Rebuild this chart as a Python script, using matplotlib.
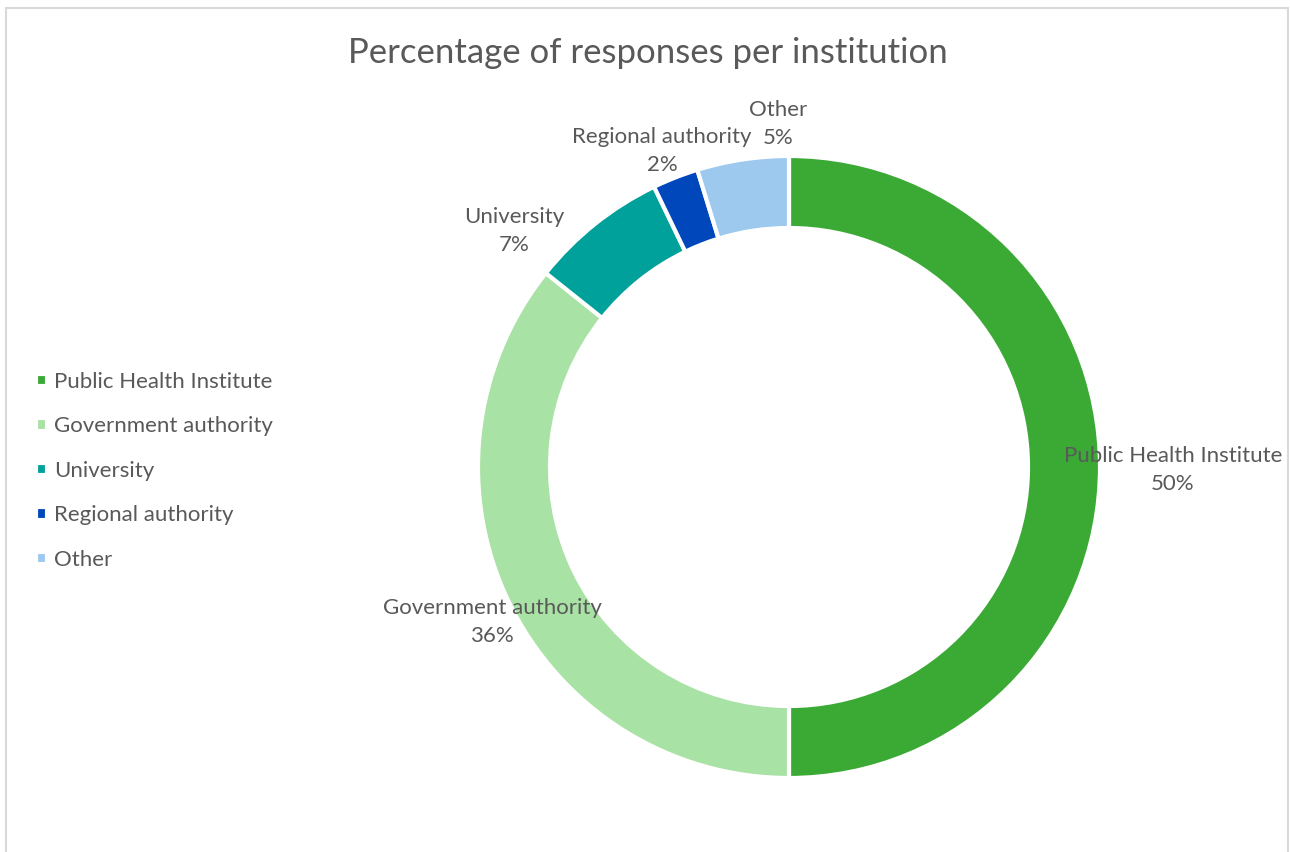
import matplotlib
matplotlib.use("Agg")
import matplotlib.pyplot as plt
from matplotlib.patches import Rectangle

plt.rcParams['font.family'] = ['Lato', 'DejaVu Sans']

# data: counts per institution (shares)
institutions = ['Public Health Institute', 'Government authority', 'University',
                'Regional authority', 'Other']
responses = [21, 15, 3, 1, 2]
colors = ['#3AAA35', '#A9E2A5', '#00A19A', '#0047BB', '#9DC9EE']

# label layout (pixel centres of the two-line labels, y from top)
label_pos = [(1173, 470), (492, 622), (514, 231), (662, 151), (778, 124)]

TEXT = '#595959'
W, H = 1290, 852

fig = plt.figure(figsize=(W / 100, H / 100), dpi=100)
ax = fig.add_axes([0, 0, 1, 1])

# outer chart frame
fig.patches.append(Rectangle((6 / W, -0.01), (1282 / W), (H - 8) / H + 0.01,
                             transform=fig.transFigure, fill=False,
                             edgecolor='#D9D9D9', linewidth=1.5))

wedges, _ = ax.pie(responses, colors=colors, startangle=90, counterclock=False,
                   center=(789, H - 467), radius=311, frame=True,
                   wedgeprops=dict(width=72, edgecolor='white', linewidth=3))
ax.set_xlim(0, W)
ax.set_ylim(0, H)
ax.axis('off')

total = sum(responses)
for name, n, (x, y) in zip(institutions, responses, label_pos):
    pct = round(100 * n / total)
    ax.text(x, H - y, f"{name}\n{pct}%", ha='center', va='center', color=TEXT,
            fontsize=16, linespacing=1.45)

ax.text(648, H - 53, 'Percentage of responses per institution', ha='center',
        va='center', color=TEXT, fontsize=25)

fig.legend(wedges, institutions, loc='upper left', bbox_to_anchor=(16 / W, 1 - 352 / H),
           frameon=False, fontsize=16, labelcolor=TEXT, handlelength=0.5,
           handleheight=0.5, handletextpad=0.3, labelspacing=1.1)

fig.savefig('out.png', dpi=100)
